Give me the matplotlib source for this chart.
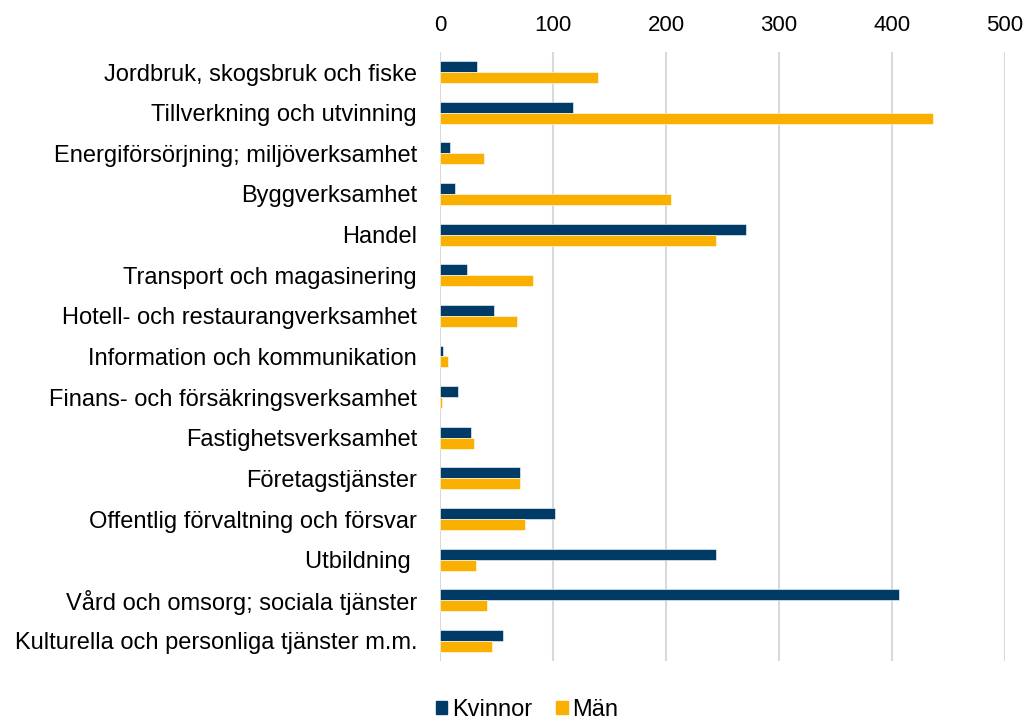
import numpy as np
import matplotlib
matplotlib.use("Agg")
import matplotlib.pyplot as plt
from matplotlib.patches import Patch

plt.rcParams["font.family"] = ["Liberation Sans", "DejaVu Sans"]

branscher = [
    "Jordbruk, skogsbruk och fiske",
    "Tillverkning och utvinning",
    "Energiförsörjning; miljöverksamhet",
    "Byggverksamhet",
    "Handel",
    "Transport och magasinering",
    "Hotell- och restaurangverksamhet",
    "Information och kommunikation",
    "Finans- och försäkringsverksamhet",
    "Fastighetsverksamhet",
    "Företagstjänster",
    "Offentlig förvaltning och försvar",
    "Utbildning ",
    "Vård och omsorg; sociala tjänster",
    "Kulturella och personliga tjänster m.m.",
]
kvinnor = [33, 118, 9, 13, 271, 24, 48, 3, 16, 27, 71, 102, 244, 406, 56]
man = [140, 436, 39, 204, 244, 82, 68, 7, 2, 30, 71, 75, 32, 42, 46]
x_ticks = [0, 100, 200, 300, 400, 500]

C_K = "#003A66"
C_M = "#F9B000"

fig = plt.figure(figsize=(10.23, 7.21), dpi=100)
ax = fig.add_axes([440 / 1023, 59.7 / 721, 565 / 1023, 609.6 / 721])

y = np.arange(len(branscher))
h = 0.27
ax.barh(y - h / 2, kvinnor, height=h, color=C_K, edgecolor="white", lw=0.4, zorder=3)
ax.barh(y + h / 2, man, height=h, color=C_M, edgecolor="white", lw=0.4, zorder=3)

ax.set_xlim(0, 500)
ax.set_ylim(len(branscher) - 0.5, -0.5)
ax.set_xticks(x_ticks)
ax.set_yticks(y)
ax.set_yticklabels(branscher)
ax.xaxis.tick_top()
ax.tick_params(axis="x", length=0, pad=11.5, labelsize=16, colors="#000000")
ax.tick_params(axis="y", length=0, pad=16.5, labelsize=17, colors="#000000")
ax.grid(axis="x", color="#D9D9D9", lw=1.5, zorder=0)
for sp in ax.spines.values():
    sp.set_visible(False)

handles = [Patch(color=C_K, label="Kvinnor"), Patch(color=C_M, label="Män")]
fig.legend(handles=handles, loc="center", bbox_to_anchor=(527 / 1023, 1 - 710 / 721),
           ncol=2, frameon=False, fontsize=17, handlelength=0.5, handleheight=0.5,
           handletextpad=0.2, columnspacing=1.0)

fig.savefig("out.png", dpi=100, facecolor="white")
